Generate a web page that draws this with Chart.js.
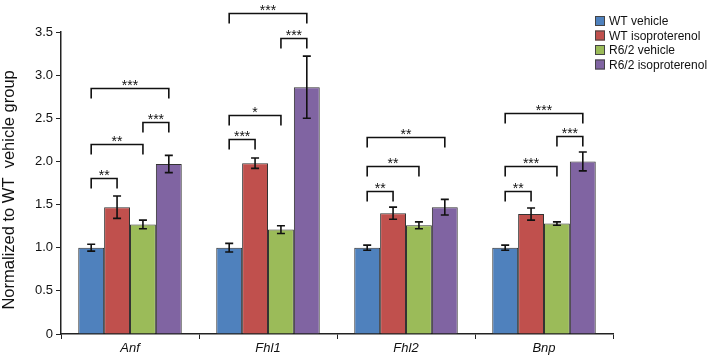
<!DOCTYPE html>
<html><head><meta charset="utf-8">
<script src="https://cdn.jsdelivr.net/npm/chart.js@4.4.0/dist/chart.umd.min.js"></script>
<style>html,body{margin:0;padding:0;background:#fff}</style>
</head><body>
<canvas id="c" width="708" height="359"></canvas>
<script>
const genes = ["Anf", "Fhl1", "Fhl2", "Bnp"];
const groups = ["WT vehicle", "WT isoproterenol", "R6/2 vehicle", "R6/2 isoproterenol"];
const wtVehicle = [1.00, 1.00, 1.00, 1.00];
const wtIso = [1.47, 1.98, 1.40, 1.39];
const r62Vehicle = [1.27, 1.21, 1.26, 1.28];
const r62Iso = [1.97, 2.86, 1.47, 2.00];
const wtVehicleErr = [0.04, 0.05, 0.03, 0.03];
const wtIsoErr = [0.13, 0.06, 0.07, 0.07];
const r62VehicleErr = [0.05, 0.045, 0.04, 0.02];
const r62IsoErr = [0.10, 0.36, 0.09, 0.11];
const yTicks = [0, 0.5, 1.0, 1.5, 2.0, 2.5, 3.0, 3.5];
// significance: [gene, from group, to group, bracket level, stars]
const brackets = [
  [0, 0, 1, 1.81, "**"], [0, 0, 2, 2.20, "**"], [0, 2, 3, 2.46, "***"], [0, 0, 3, 2.85, "***"],
  [1, 0, 1, 2.26, "***"], [1, 0, 2, 2.54, "*"], [1, 2, 3, 3.43, "***"], [1, 0, 3, 3.72, "***"],
  [2, 0, 1, 1.66, "**"], [2, 0, 2, 1.95, "**"], [2, 0, 3, 2.28, "**"],
  [3, 0, 1, 1.66, "**"], [3, 0, 2, 1.95, "***"], [3, 2, 3, 2.29, "***"], [3, 0, 3, 2.56, "***"]
];

const colors = ["#4f81bd", "#c0504d", "#9bbb59", "#8064a2"];
const values = [wtVehicle, wtIso, r62Vehicle, r62Iso];
const errors = [wtVehicleErr, wtIsoErr, r62VehicleErr, r62IsoErr];

// error bars on top of each bar
const errorBars = {
  id: "errorBars",
  afterDatasetsDraw(chart) {
    const ctx = chart.ctx, y = chart.scales.y;
    ctx.save();
    ctx.strokeStyle = "#111";
    ctx.lineWidth = 1.6;
    chart.data.datasets.forEach((ds, i) => {
      chart.getDatasetMeta(i).data.forEach((bar, j) => {
        const v = ds.data[j], e = errors[i][j];
        const top = y.getPixelForValue(v + e), bot = y.getPixelForValue(v - e);
        ctx.beginPath();
        ctx.moveTo(bar.x, top); ctx.lineTo(bar.x, bot);
        ctx.moveTo(bar.x - 4, top); ctx.lineTo(bar.x + 4, top);
        ctx.moveTo(bar.x - 4, bot); ctx.lineTo(bar.x + 4, bot);
        ctx.stroke();
      });
    });
    ctx.restore();
  }
};

// significance brackets with stars
const sigBrackets = {
  id: "sigBrackets",
  afterDatasetsDraw(chart) {
    const ctx = chart.ctx, y = chart.scales.y;
    ctx.save();
    ctx.strokeStyle = "#111";
    ctx.fillStyle = "#111";
    ctx.lineWidth = 1.6;
    ctx.font = "14px 'Liberation Sans', Arial, sans-serif";
    ctx.textAlign = "center";
    ctx.textBaseline = "alphabetic";
    brackets.forEach(([g, a, b, lvl, txt]) => {
      const x1 = chart.getDatasetMeta(a).data[g].x;
      const x2 = chart.getDatasetMeta(b).data[g].x;
      const yy = Math.round(y.getPixelForValue(lvl)) + 0.5;
      ctx.beginPath();
      ctx.moveTo(x1, yy + 10); ctx.lineTo(x1, yy); ctx.lineTo(x2, yy); ctx.lineTo(x2, yy + 10);
      ctx.stroke();
      ctx.fillText(txt, (x1 + x2) / 2, yy + 1);
    });
    ctx.restore();
  }
};

// legend in the upper right corner
const cornerLegend = {
  id: "cornerLegend",
  afterDraw(chart) {
    const ctx = chart.ctx;
    ctx.save();
    ctx.font = "12px 'Liberation Sans', Arial, sans-serif";
    ctx.textBaseline = "middle";
    ctx.textAlign = "left";
    groups.forEach((name, i) => {
      const cy = 21 + i * 14.5;
      ctx.fillStyle = colors[i];
      ctx.fillRect(595, cy - 5, 10, 10);
      ctx.strokeStyle = "#444";
      ctx.lineWidth = 1;
      ctx.strokeRect(595.5, cy - 4.5, 9, 9);
      ctx.fillStyle = "#111";
      ctx.fillText(name, 609, cy + 1);
    });
    ctx.restore();
  }
};

new Chart(document.getElementById("c"), {
  type: "bar",
  data: {
    labels: genes,
    datasets: groups.map((name, i) => ({
      label: name,
      data: values[i],
      backgroundColor: colors[i],
      borderColor: "#333",
      borderWidth: 1,
      barPercentage: 1,
      categoryPercentage: 0.75
    }))
  },
  options: {
    responsive: false,
    animation: false,
    devicePixelRatio: 1,
    layout: { padding: { top: 32, right: 95, left: 0, bottom: 0 } },
    plugins: { legend: { display: false }, tooltip: { enabled: false } },
    scales: {
      x: {
        afterFit(s) { s.height = 25; },
        grid: { drawOnChartArea: false, drawTicks: true, tickLength: 5, color: "#222", offset: true },
        border: { color: "#222", width: 1.5 },
        ticks: { color: "#111", padding: 2, font: { family: "'Liberation Sans', Arial", size: 13, style: "italic" } }
      },
      y: {
        min: 0,
        max: 3.5,
        afterFit(s) { s.width = 61; },
        afterBuildTicks(s) { s.ticks = yTicks.map(v => ({ value: v })); },
        grid: { drawOnChartArea: false, drawTicks: true, tickLength: 5, color: "#222" },
        border: { color: "#222", width: 1.5 },
        ticks: {
          color: "#111",
          padding: 3,
          font: { family: "'Liberation Sans', Arial", size: 13 },
          callback: v => v === 0 ? "0" : v.toFixed(1)
        },
        title: {
          display: true,
          text: "Normalized to WT  vehicle group   ",
          color: "#111",
          padding: { top: 0, bottom: 1 },
          font: { family: "'Liberation Sans', Arial", size: 16.5 }
        }
      }
    }
  },
  plugins: [errorBars, sigBrackets, cornerLegend]
});
</script>
</body></html>
